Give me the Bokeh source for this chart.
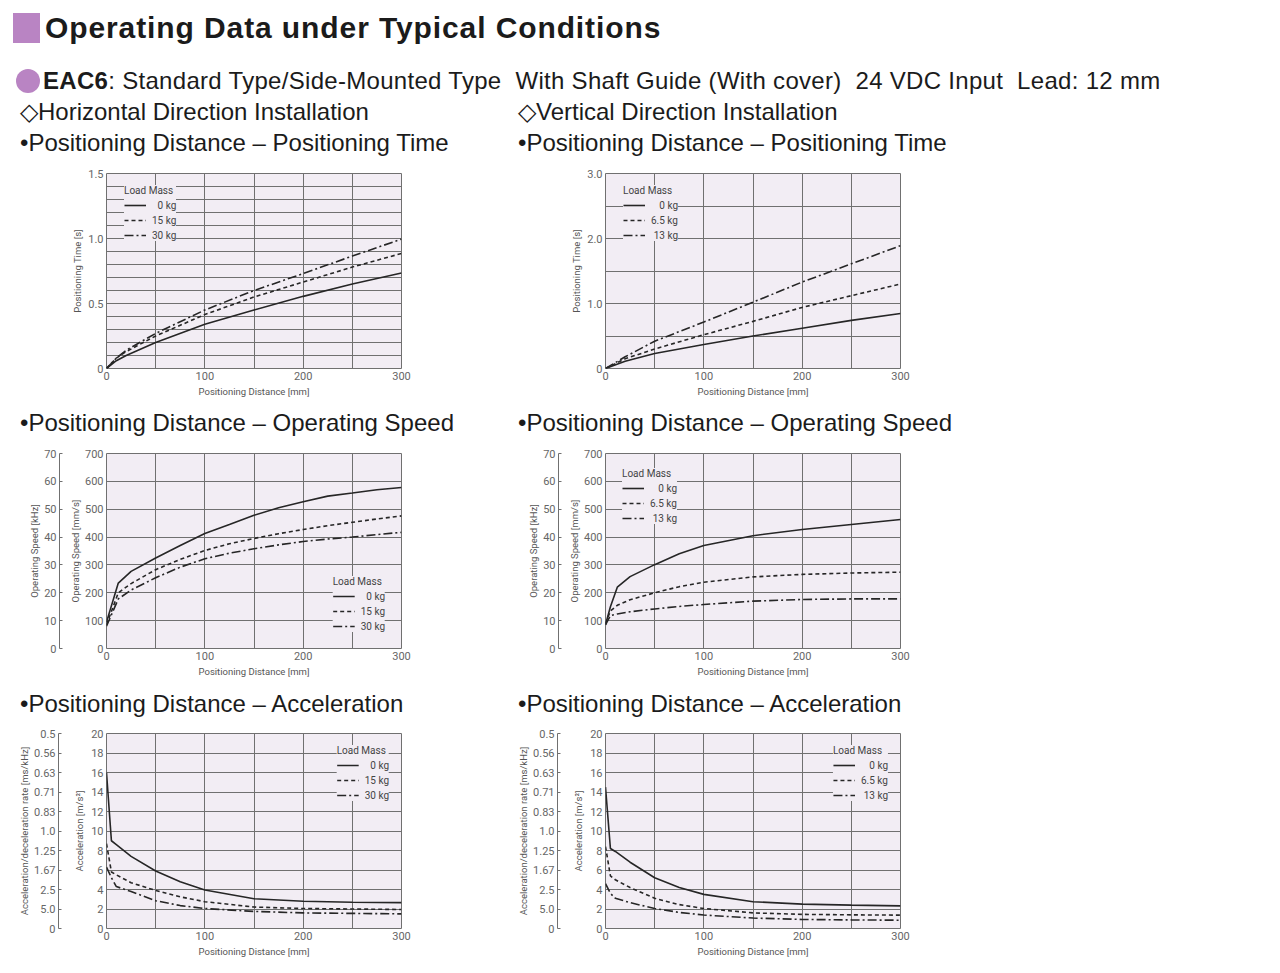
from bokeh.plotting import figure
from bokeh.models import Range1d, LinearAxis, FixedTicker, Legend, LegendItem, Div
from bokeh.layouts import column, row
from bokeh.embed import file_html
from bokeh.resources import INLINE

# ---------------- data ----------------
distance_ticks = [0, 100, 200, 300]
distance_grid = [0, 50, 100, 150, 200, 250, 300]

h_loads = ["\u20070 kg", "15 kg", "30 kg"]
v_loads = ["\u2007\u20080 kg", "6.5 kg", "\u200813 kg"]

# Horizontal installation - positioning time [s]
h_time_x = [0, 10, 20, 50, 100, 150, 200, 250, 300]
h_time_0 = [0, 0.06, 0.10, 0.20, 0.34, 0.45, 0.555, 0.65, 0.735]
h_time_15 = [0, 0.08, 0.13, 0.25, 0.415, 0.55, 0.665, 0.78, 0.885]
h_time_30 = [0, 0.08, 0.14, 0.27, 0.45, 0.60, 0.73, 0.865, 0.995]

# Horizontal installation - operating speed [mm/s]
h_speed_x = [0, 12, 25, 50, 75, 100, 125, 150, 175, 200, 225, 250, 275, 300]
h_speed_0 = [95, 235, 277, 325, 370, 413, 445, 478, 505, 527, 547, 558, 570, 578]
h_speed_15 = [85, 200, 233, 283, 320, 352, 376, 395, 412, 427, 441, 453, 465, 476]
h_speed_30 = [80, 178, 210, 254, 292, 322, 342, 358, 372, 384, 393, 400, 409, 417]

# Horizontal installation - acceleration [m/s2]
h_acc_x = [0, 5, 10, 25, 50, 75, 100, 150, 200, 250, 300]
h_acc_0 = [16.0, 9.0, 8.6, 7.4, 5.9, 4.8, 3.95, 3.05, 2.8, 2.7, 2.65]
h_acc_15 = [8.7, 5.8, 5.5, 4.7, 3.9, 3.25, 2.75, 2.2, 2.05, 2.0, 1.95]
h_acc_30 = [6.3, 5.2, 4.3, 3.8, 2.85, 2.35, 2.05, 1.75, 1.6, 1.55, 1.5]

# Vertical installation - positioning time [s]
v_time_x = [0, 20, 50, 100, 150, 200, 250, 300]
v_time_0 = [0, 0.11, 0.23, 0.37, 0.50, 0.62, 0.74, 0.845]
v_time_65 = [0, 0.15, 0.30, 0.52, 0.725, 0.94, 1.12, 1.30]
v_time_13 = [0, 0.18, 0.42, 0.715, 1.02, 1.33, 1.61, 1.89]

# Vertical installation - operating speed [mm/s]
v_speed_x = [0, 5, 12, 25, 50, 75, 100, 150, 200, 250, 300]
v_speed_0 = [85, 150, 220, 258, 301, 340, 370, 405, 427, 445, 463]
v_speed_65 = [90, 135, 155, 175, 200, 222, 238, 257, 266, 271, 274]
v_speed_13 = [85, 118, 124, 132, 142, 151, 158, 170, 176, 178, 178]

# Vertical installation - acceleration [m/s2]
v_acc_x = [0, 5, 10, 25, 50, 75, 100, 150, 200, 250, 300]
v_acc_0 = [14.5, 8.2, 7.9, 6.8, 5.2, 4.2, 3.5, 2.75, 2.5, 2.4, 2.32]
v_acc_65 = [8.4, 5.4, 5.0, 4.2, 3.1, 2.45, 2.05, 1.6, 1.45, 1.4, 1.37]
v_acc_13 = [4.6, 3.6, 3.1, 2.65, 2.05, 1.65, 1.38, 1.07, 0.93, 0.88, 0.85]

# axis ticks / labels
h_time_grid = [i / 10 for i in range(16)]
h_time_ticks = [0, 0.5, 1.0, 1.5]
h_time_labels = ["0", "0.5", "1.0", "1.5"]
v_time_grid = [0, 0.5, 1.0, 1.5, 2.0, 2.5, 3.0]
v_time_ticks = [0, 1.0, 2.0, 3.0]
v_time_labels = ["0", "1.0", "2.0", "3.0"]
speed_ticks = [0, 100, 200, 300, 400, 500, 600, 700]
khz_ticks = [0, 10, 20, 30, 40, 50, 60, 70]
acc_ticks = [0, 2, 4, 6, 8, 10, 12, 14, 16, 18, 20]
rate_labels = ["0", "5.0", "2.5", "1.67", "1.25", "1.0", "0.83", "0.71", "0.63", "0.56", "0.5"]

# ---------------- style ----------------
BG = "#f2edf4"
GRID = "#707070"
TXT = "#666666"
LINE = "#262626"
FONT = "Roboto"
DASHES = ["solid", "4 3", "9 3 2 3"]


def style_axis(ax, label, label_standoff):
    ax.axis_line_color = None
    ax.major_tick_out = 0
    ax.major_tick_in = 0
    ax.minor_tick_line_color = None
    ax.major_label_text_font = FONT
    ax.major_label_text_font_size = "11px"
    ax.major_label_text_color = TXT
    ax.major_label_standoff = 3
    ax.axis_label = label
    ax.axis_label_text_font = FONT
    ax.axis_label_text_font_size = "9.5px"
    ax.axis_label_text_font_style = "normal"
    ax.axis_label_text_color = "#555555"
    ax.axis_label_standoff = label_standoff


def add_spacer(p, px):
    sp = LinearAxis(ticker=FixedTicker(ticks=[]))
    sp.axis_line_color = None
    sp.major_tick_out = 0
    sp.major_tick_in = 0
    sp.minor_tick_line_color = None
    sp.major_label_standoff = 0
    sp.axis_label = " "
    sp.axis_label_text_font_size = "1px"
    sp.axis_label_standoff = px
    p.add_layout(sp, "left")


def add_outer(p, ax, title, standoff):
    style_axis(ax, title, standoff)
    ax.axis_line_color = GRID
    ax.major_tick_line_color = GRID
    ax.major_tick_in = 3
    ax.major_label_standoff = 3
    p.add_layout(ax, "left")


def make_chart(xs, ys_list, labels, ymax, ygrid, yticks, ylabels, ylabel,
               legend_loc, legend_margin, width, border_left, ylabel_standoff):
    p = figure(width=width, height=247,
               x_range=Range1d(0, 300), y_range=Range1d(0, ymax),
               output_backend="svg", toolbar_location=None,
               min_border_left=border_left, min_border_right=width - border_left - 295,
               min_border_top=15, min_border_bottom=37)
    p.background_fill_color = BG
    p.border_fill_color = "white"
    p.outline_line_color = GRID
    p.outline_line_width = 1
    p.xgrid.ticker = FixedTicker(ticks=distance_grid)
    p.ygrid.ticker = FixedTicker(ticks=ygrid)
    p.xgrid.grid_line_color = GRID
    p.ygrid.grid_line_color = GRID
    p.xgrid.grid_line_width = 1
    p.ygrid.grid_line_width = 1

    p.xaxis.ticker = FixedTicker(ticks=distance_ticks)
    style_axis(p.xaxis[0], "Positioning Distance [mm]", 3)
    p.yaxis.ticker = FixedTicker(ticks=yticks)
    p.yaxis.major_label_overrides = {t: l for t, l in zip(yticks, ylabels)}
    style_axis(p.yaxis[0], ylabel, ylabel_standoff)

    items = []
    for ys, lab, dash in zip(ys_list, labels, DASHES):
        r = p.line(xs, ys, line_color=LINE, line_width=1.6, line_dash=dash)
        items.append(LegendItem(label=lab, renderers=[r]))
    leg = Legend(items=items, location=legend_loc, title="Load Mass",
                 title_text_font=FONT, title_text_font_size="10px",
                 title_text_font_style="normal", title_text_color="#444444",
                 title_standoff=3, label_text_font=FONT,
                 label_text_font_size="10px", label_text_color="#444444",
                 label_height=12, glyph_width=22, glyph_height=12,
                 label_standoff=6, spacing=3, padding=6, margin=legend_margin,
                 background_fill_color=BG, background_fill_alpha=1.0,
                 border_line_color=None)
    p.add_layout(leg)
    return p


def build_speed(xs, ys_list, labels, loc, margin, width, bl):
    p = make_chart(xs, ys_list, labels, 700, speed_ticks, speed_ticks,
                   [str(t) for t in speed_ticks], "Operating Speed [mm/s]",
                   loc, margin, width, bl, 1)
    p.extra_y_ranges = {"khz": Range1d(0, 70)}
    add_spacer(p, 3)
    ax = LinearAxis(y_range_name="khz", ticker=FixedTicker(ticks=khz_ticks))
    add_outer(p, ax, "Operating Speed [kHz]", 1)
    return p


def build_acc(xs, ys_list, labels, width, bl):
    p = make_chart(xs, ys_list, labels, 20, acc_ticks, acc_ticks,
                   [str(t) for t in acc_ticks], "Acceleration [m/s\u00b2]",
                   "top_right", 12, width, bl, 3)
    add_spacer(p, 9)
    ax = LinearAxis(ticker=FixedTicker(ticks=acc_ticks))
    ax.major_label_overrides = {t: l for t, l in zip(acc_ticks, rate_labels)}
    add_outer(p, ax, "Acceleration/deceleration rate [ms/kHz]", 1)
    return p


TOP_LEFT = (18, 127)

f1 = make_chart(h_time_x, [h_time_0, h_time_15, h_time_30], h_loads, 1.5,
                h_time_grid, h_time_ticks, h_time_labels, "Positioning Time [s]",
                TOP_LEFT, 0, 508, 106, 2)
f4 = make_chart(v_time_x, [v_time_0, v_time_65, v_time_13], v_loads, 3.0,
                v_time_grid, v_time_ticks, v_time_labels, "Positioning Time [s]",
                TOP_LEFT, 0, 500, 97, 2)
f2 = build_speed(h_speed_x, [h_speed_0, h_speed_15, h_speed_30], h_loads,
                 "bottom_right", 16, 508, 106)
f5 = build_speed(v_speed_x, [v_speed_0, v_speed_65, v_speed_13], v_loads,
                 (17, 124), 0, 500, 97)
f3 = build_acc(h_acc_x, [h_acc_0, h_acc_15, h_acc_30], h_loads, 508, 106)
f6 = build_acc(v_acc_x, [v_acc_0, v_acc_65, v_acc_13], v_loads, 500, 97)

# ---------------- text blocks ----------------
TF = "font-family:'Liberation Sans',Arial,sans-serif;color:#1b1b1b;white-space:pre;position:absolute;"


def span(left, top, size, text, extra=""):
    return (f'<div style="{TF}left:{left}px;top:{top}px;font-size:{size}px;'
            f'line-height:{size}px;{extra}">{text}</div>')


header_html = (
    '<div style="position:relative;width:1264px;height:158px;">'
    '<div style="position:absolute;left:13px;top:13px;width:27px;height:30px;background:#b984c3;"></div>'
    + span(45, 13, 30, "Operating Data under Typical Conditions", "font-weight:bold;letter-spacing:0.9px;")
    + '<div style="position:absolute;left:16px;top:69px;width:24px;height:24px;border-radius:12px;background:#b984c3;"></div>'
    + span(43, 69, 24, "<b>EAC6</b>: Standard Type/Side-Mounted Type  With Shaft Guide (With cover)  24 VDC Input  Lead: 12 mm",
           "letter-spacing:0.3px;")
    + span(20, 100, 24, "\u25c7Horizontal Direction Installation")
    + span(518, 100, 24, "\u25c7Vertical Direction Installation")
    + span(20, 131, 24, "\u2022Positioning Distance \u2013 Positioning Time")
    + span(518, 131, 24, "\u2022Positioning Distance \u2013 Positioning Time")
    + '</div>'
)
header = Div(text=header_html, width=1264, height=158, margin=(0, 0, 0, 0))


def heading(text, top):
    html = ('<div style="position:relative;width:1008px;height:33px;">'
            + span(20, top, 24, "\u2022Positioning Distance \u2013 " + text)
            + span(518, top, 24, "\u2022Positioning Distance \u2013 " + text)
            + '</div>')
    return Div(text=html, width=1008, height=33, margin=(0, 0, 0, 0))


h2 = heading("Operating Speed", 6)
h3 = heading("Acceleration", 7)

layout = column(header, row(f1, f4), h2, row(f2, f5), h3, row(f3, f6))

open("out.html", "w").write(file_html(layout, INLINE))
